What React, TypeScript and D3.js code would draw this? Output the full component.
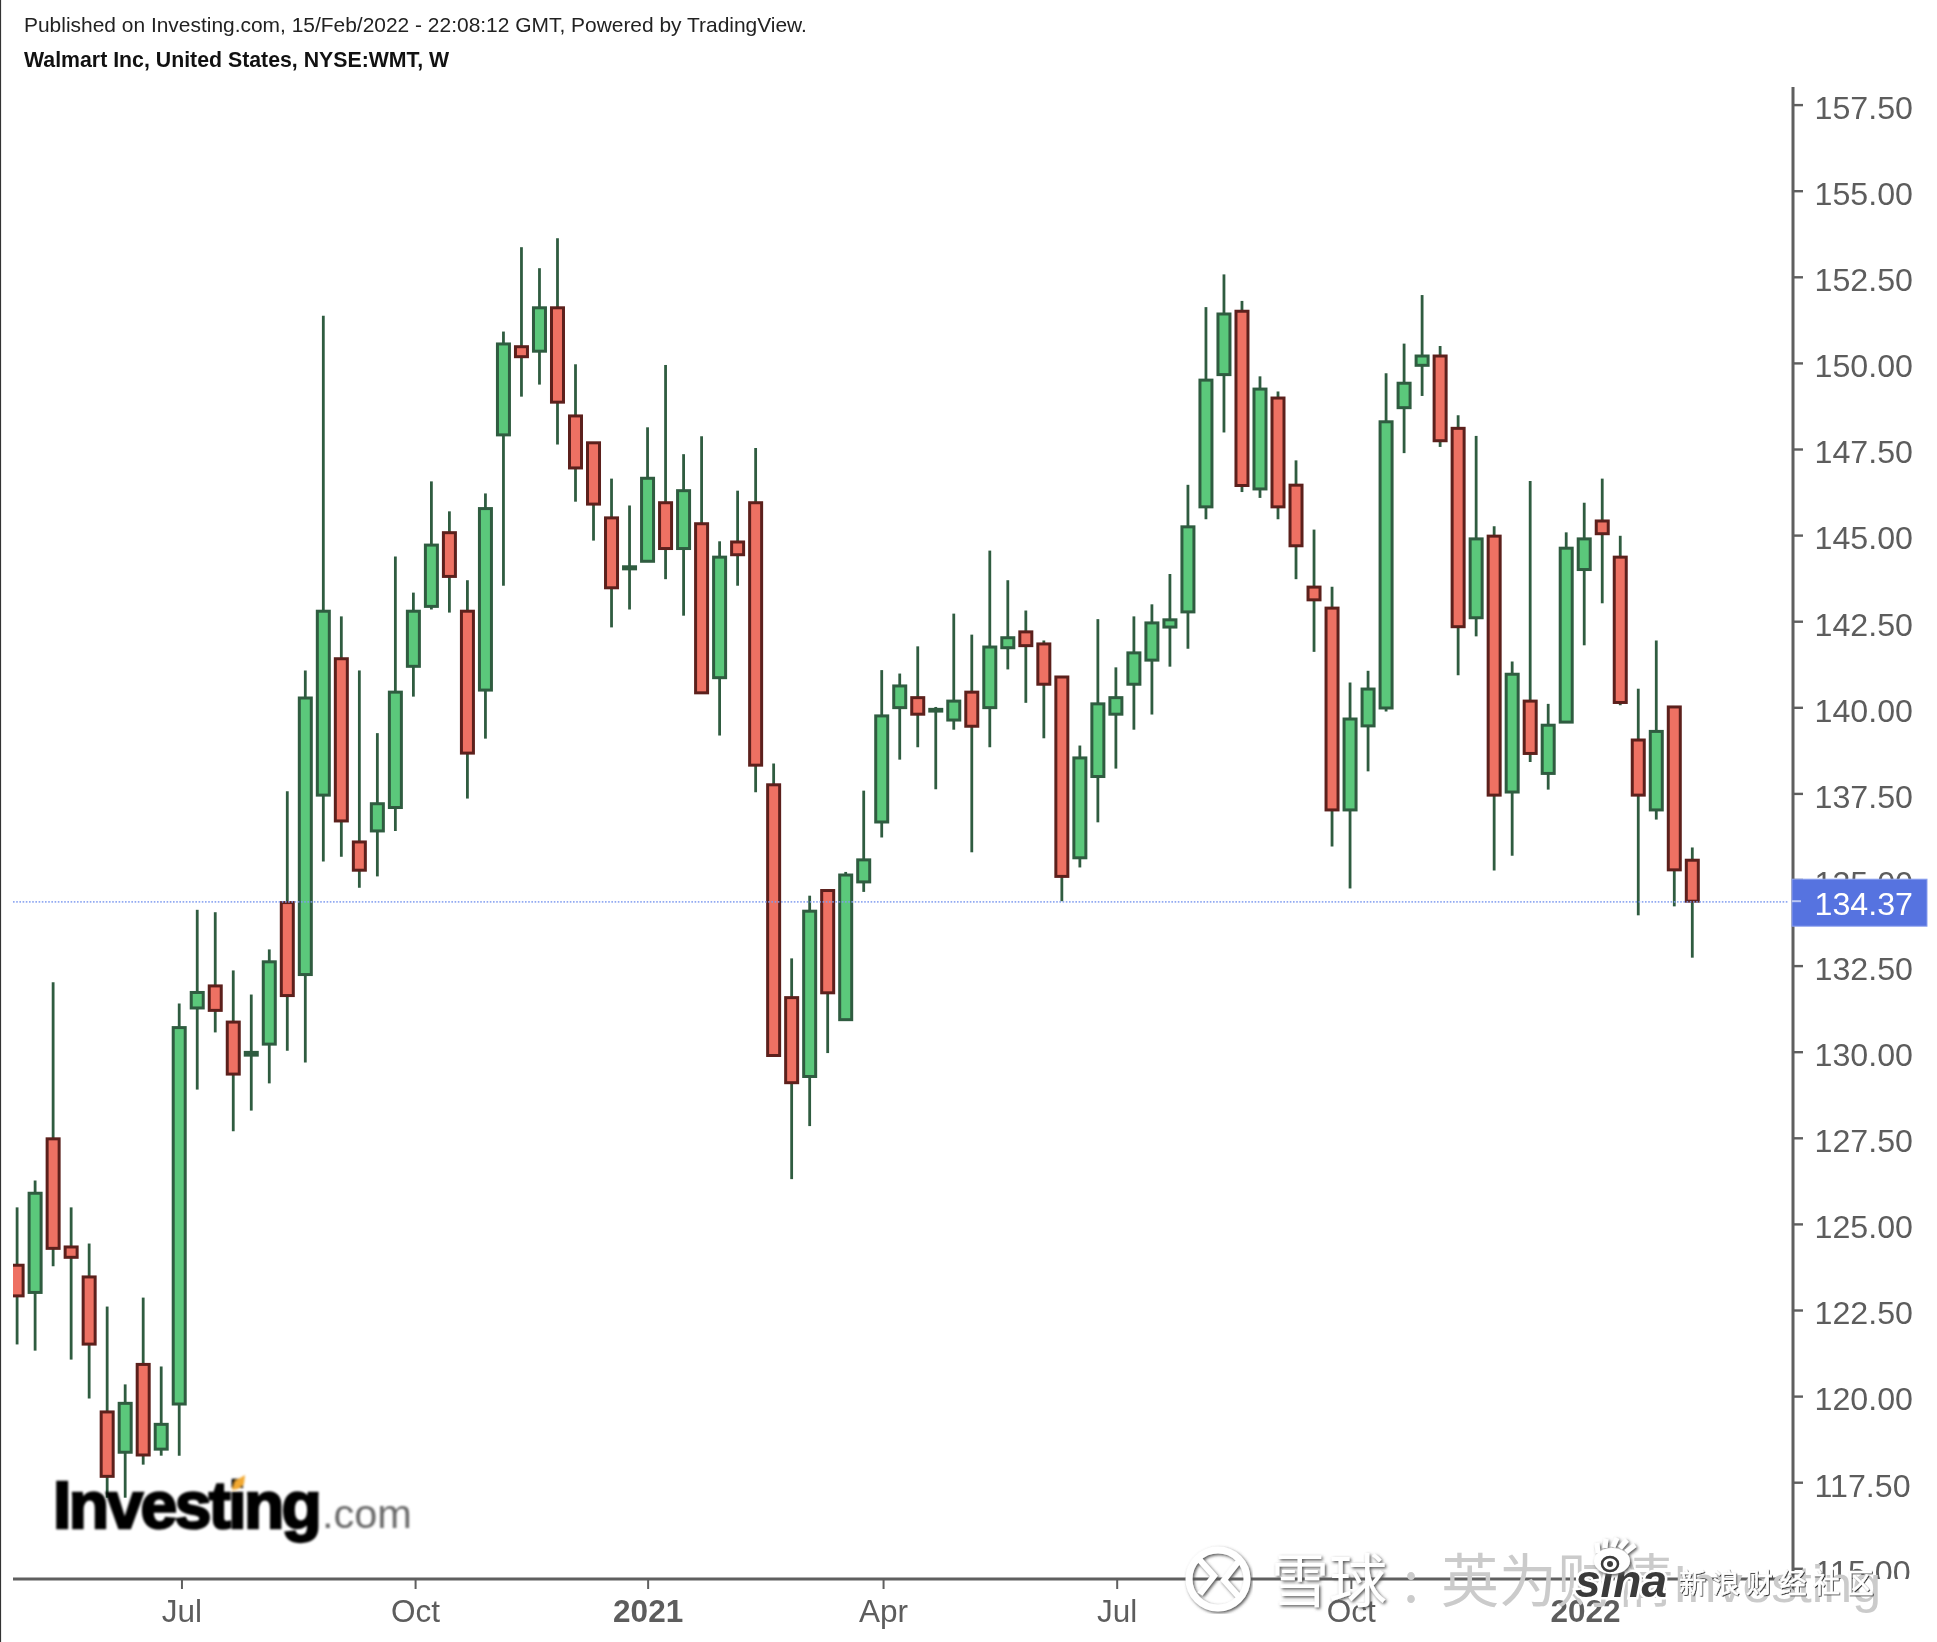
import { useRef, useEffect } from "react";
import * as d3 from "d3";

// weekly candles, values
const opens = [
  123.8, 123.01, 127.47, 124.33, 123.46, 119.54, 118.37, 120.92, 118.46, 119.77,
  131.27, 131.91, 130.86, 129.9, 130.22, 134.33, 132.24, 137.45, 141.41, 136.09,
  136.41, 137.09, 141.19, 142.93, 145.07, 142.79, 140.5, 147.91, 150.47, 150.34,
  151.6, 148.46, 147.68, 145.5, 144.02, 144.24, 145.94, 144.61, 145.33, 140.86,
  144.8, 145.94, 137.75, 131.57, 129.28, 134.68, 130.93, 134.93, 136.67, 139.99,
  140.28, 139.89, 139.63, 140.44, 139.99, 141.73, 142.19, 141.84, 140.88, 135.63,
  137.99, 139.8, 140.67, 141.37, 142.33, 142.77, 145.82, 149.66, 151.5, 146.34,
  148.98, 146.45, 143.49, 142.88, 137.02, 139.46, 139.98, 148.7, 149.93, 150.2,
  148.1, 142.6, 144.97, 137.54, 140.18, 138.08, 139.57, 144.0, 145.41, 144.36,
  139.05, 137.02, 140.01, 135.56,
];
const closes = [
  122.91, 125.89, 124.29, 124.03, 121.51, 117.67, 119.79, 118.29, 119.18, 130.7,
  131.72, 131.2, 129.35, 129.98, 132.61, 131.63, 140.27, 142.79, 136.7, 135.27,
  137.2, 140.44, 142.79, 144.71, 143.8, 138.67, 145.77, 150.55, 150.18, 151.6,
  148.86, 146.95, 145.9, 143.47, 144.08, 146.65, 144.61, 146.29, 140.42, 144.36,
  144.43, 138.32, 129.89, 129.1, 134.08, 131.71, 135.13, 135.57, 139.75, 140.62,
  139.8, 139.94, 140.18, 139.45, 141.75, 142.02, 141.79, 140.67, 135.09, 138.53,
  140.1, 140.28, 141.58, 142.45, 142.54, 145.24, 149.5, 151.42, 146.44, 149.24,
  145.82, 144.69, 143.12, 137.02, 139.66, 140.53, 148.29, 149.41, 150.2, 147.74,
  142.34, 144.89, 137.45, 140.96, 138.66, 139.48, 144.62, 144.89, 145.04, 140.14,
  137.45, 139.3, 135.28, 134.37,
];
const highs = [
  125.48, 126.26, 132.02, 125.48, 124.43, 122.6, 120.34, 122.86, 120.86, 131.4,
  134.12, 134.05, 132.36, 131.66, 132.97, 137.56, 141.07, 151.37, 142.64, 141.07,
  139.25, 144.38, 143.33, 146.56, 145.69, 143.69, 146.21, 150.91, 153.36, 152.75,
  153.62, 149.96, 147.68, 146.64, 145.86, 148.13, 149.94, 147.35, 147.87, 144.82,
  146.29, 147.53, 138.37, 132.71, 134.53, 134.68, 135.22, 137.58, 141.08, 140.98,
  141.77, 140.01, 142.72, 142.11, 144.55, 143.69, 142.81, 141.94, 140.88, 138.89,
  142.56, 141.16, 142.64, 142.99, 143.87, 146.46, 151.62, 152.57, 151.8, 149.61,
  149.17, 147.17, 145.16, 143.5, 140.72, 141.06, 149.7, 150.56, 151.97, 150.49,
  148.48, 147.88, 145.26, 141.33, 146.57, 140.1, 145.08, 145.94, 146.64, 144.98,
  140.54, 141.94, 140.01, 135.93,
];
const lows = [
  121.5, 121.32, 123.77, 121.06, 119.93, 117.05, 117.05, 118.01, 118.27, 118.27,
  128.9, 130.56, 127.69, 128.29, 129.08, 130.03, 129.69, 135.52, 135.66, 134.76,
  135.09, 136.41, 140.31, 142.84, 142.75, 137.35, 139.09, 143.53, 149.02, 149.37,
  147.63, 145.97, 144.84, 142.32, 142.84, 144.24, 143.72, 142.66, 140.42, 139.18,
  143.53, 137.53, 129.89, 126.3, 127.84, 129.96, 130.93, 134.64, 136.22, 138.48,
  138.84, 137.62, 139.35, 135.79, 138.84, 141.1, 140.13, 139.1, 134.37, 135.35,
  136.66, 138.22, 139.35, 139.79, 141.18, 141.7, 145.46, 147.98, 146.25, 146.08,
  145.46, 143.72, 141.61, 135.96, 134.74, 138.14, 139.88, 147.38, 149.04, 147.56,
  140.93, 142.06, 135.26, 135.69, 138.41, 137.61, 139.57, 141.8, 143.02, 140.06,
  133.96, 136.74, 134.22, 132.73,
];

const priceTicks = [
  115, 117.5, 120, 122.5, 125, 127.5, 130, 132.5, 135, 137.5, 140, 142.5, 145,
  147.5, 150, 152.5, 155, 157.5,
];
const timeTickLabels = ["Jul", "Oct", "2021", "Apr", "Jul", "Oct", "2022"];
// bar index of each label (they do not sit exactly on a bar)
const timeTickIndex = [9.18, 22.15, 35.06, 48.13, 61.1, 74.1, 87.1];
const lastPrice = 134.37;

const width = 1937;
const height = 1642;
const sans = "'Liberation Sans', Arial, sans-serif";
const cjk = "'Noto Sans CJK SC', sans-serif";

export default function App() {
  const svgRef = useRef<SVGSVGElement>(null);

  useEffect(() => {
    if (!svgRef.current) return;
    const svg = d3.select(svgRef.current);
    svg.selectAll("*").remove();

    const paneLeft = 13;
    const paneRight = 1793;
    const paneBottom = 1579;
    const paneTop = 87;

    const x = d3.scaleLinear().domain([0, 93]).range([17.1, 1692.3]);
    const y = d3.scaleLinear().domain([115, 157.5]).range([1568.3, 104.6]);

    const defs = svg.append("defs");
    defs
      .append("clipPath")
      .attr("id", "pane")
      .append("rect")
      .attr("x", paneLeft)
      .attr("y", paneTop)
      .attr("width", paneRight - paneLeft)
      .attr("height", paneBottom - paneTop);
    defs
      .append("clipPath")
      .attr("id", "scale")
      .append("rect")
      .attr("x", paneRight - 2)
      .attr("y", 80)
      .attr("width", width - paneRight)
      .attr("height", paneBottom - 80);

    // shadows used by the pasted-on watermarks
    const emboss = defs.append("filter").attr("id", "emboss");
    emboss
      .append("feDropShadow")
      .attr("dx", 1.5)
      .attr("dy", 1.5)
      .attr("stdDeviation", 1.4)
      .attr("flood-color", "#555");
    const tight = defs.append("filter").attr("id", "tight");
    tight
      .append("feDropShadow")
      .attr("dx", 0.8)
      .attr("dy", 0.8)
      .attr("stdDeviation", 0.7)
      .attr("flood-color", "#111");
    defs
      .append("filter")
      .attr("id", "soft")
      .append("feGaussianBlur")
      .attr("stdDeviation", 0.8);

    // left edge of the screenshot
    svg
      .append("line")
      .attr("x1", 0.5)
      .attr("x2", 0.5)
      .attr("y1", 0)
      .attr("y2", height)
      .attr("stroke", "#333")
      .attr("stroke-width", 1.2);

    // Header
    svg
      .append("text")
      .attr("x", 24)
      .attr("y", 32)
      .attr("font-family", sans)
      .attr("font-size", 20.95)
      .attr("fill", "#222")
      .text("Published on Investing.com, 15/Feb/2022 - 22:08:12 GMT, Powered by TradingView.");
    svg
      .append("text")
      .attr("x", 24)
      .attr("y", 67)
      .attr("font-family", sans)
      .attr("font-size", 21.3)
      .attr("font-weight", 700)
      .attr("fill", "#111")
      .text("Walmart Inc, United States, NYSE:WMT, W");

    // Candles
    const bars = d3.range(opens.length);
    const pane = svg.append("g").attr("clip-path", "url(#pane)");
    const up = (i: number) => closes[i] >= opens[i];

    pane
      .selectAll("line.wick")
      .data(bars)
      .join("line")
      .attr("class", "wick")
      .attr("x1", (i) => x(i))
      .attr("x2", (i) => x(i))
      .attr("y1", (i) => y(highs[i]))
      .attr("y2", (i) => y(lows[i]))
      .attr("stroke", "#2f5c40")
      .attr("stroke-width", 2.8);

    const bodyW = 12;
    pane
      .selectAll("rect.body")
      .data(bars)
      .join("rect")
      .attr("class", "body")
      .attr("x", (i) => x(i) - bodyW / 2)
      .attr("y", (i) => y(Math.max(opens[i], closes[i])))
      .attr("width", bodyW)
      .attr("height", (i) => Math.abs(y(opens[i]) - y(closes[i])))
      .attr("fill", (i) => (up(i) ? "#5bc87b" : "#ee7163"))
      .attr("stroke", (i) => (up(i) ? "#2f5c40" : "#5c201c"))
      .attr("stroke-width", 3);

    // Last price line
    pane
      .append("line")
      .attr("x1", paneLeft)
      .attr("x2", paneRight - 4)
      .attr("y1", y(lastPrice) + 0.6)
      .attr("y2", y(lastPrice) + 0.6)
      .attr("stroke", "#7f9bf0")
      .attr("stroke-opacity", 0.85)
      .attr("stroke-width", 1.8)
      .attr("stroke-dasharray", "1.6,1.6");

    // Price axis
    const yAxis = svg
      .append("g")
      .attr("clip-path", "url(#scale)")
      .append("g")
      .attr("transform", `translate(${paneRight},0)`)
      .call(
        d3
          .axisRight(y)
          .tickValues(priceTicks)
          .tickFormat(d3.format(".2f"))
          .tickSize(10)
          .tickPadding(11.5),
      );
    yAxis.select(".domain").remove();
    yAxis.selectAll("line").attr("stroke", "#5f5f5f").attr("stroke-width", 2.4);
    yAxis
      .selectAll("text")
      .attr("font-family", sans)
      .attr("font-size", 32.2)
      .attr("fill", "#5d5d5d")
      .attr("dy", "0.43em");

    svg
      .append("line")
      .attr("x1", paneRight)
      .attr("x2", paneRight)
      .attr("y1", paneTop)
      .attr("y2", paneBottom + 14)
      .attr("stroke", "#5f5f5f")
      .attr("stroke-width", 3);

    // Time axis
    const xAxis = svg
      .append("g")
      .attr("transform", `translate(-1,${paneBottom})`)
      .call(
        d3
          .axisBottom(x)
          .tickValues(timeTickIndex)
          .tickFormat((_, i) => timeTickLabels[i])
          .tickSize(10)
          .tickPadding(11),
      );
    xAxis.select(".domain").remove();
    xAxis.selectAll("line").attr("stroke", "#5f5f5f").attr("stroke-width", 2);
    xAxis
      .selectAll("text")
      .attr("font-family", sans)
      .attr("font-size", 31.5)
      .attr("fill", "#5d5d5d")
      .attr("font-weight", (_, i) => (timeTickLabels[i].length === 4 ? 700 : 400));

    svg
      .append("line")
      .attr("x1", paneLeft)
      .attr("x2", paneRight)
      .attr("y1", paneBottom)
      .attr("y2", paneBottom)
      .attr("stroke", "#5f5f5f")
      .attr("stroke-width", 3);

    // Last price tag
    svg
      .append("rect")
      .attr("x", 1792)
      .attr("y", y(lastPrice) - 22)
      .attr("width", 135)
      .attr("height", 47)
      .attr("fill", "#5673e0")
      .attr("stroke", "#8ba0ee")
      .attr("stroke-width", 1);
    svg
      .append("line")
      .attr("x1", 1792)
      .attr("x2", 1801)
      .attr("y1", y(lastPrice))
      .attr("y2", y(lastPrice))
      .attr("stroke", "#b9c6f3")
      .attr("stroke-width", 2);
    svg
      .append("text")
      .attr("x", 1814.5)
      .attr("y", y(lastPrice) + 13.5)
      .attr("font-family", sans)
      .attr("font-size", 32.2)
      .attr("fill", "#fff")
      .text(lastPrice.toFixed(2));

    // Investing.com logo
    const logo = svg.append("g").attr("font-family", sans).attr("filter", "url(#soft)");
    logo
      .append("text")
      .attr("x", 53)
      .attr("y", 1528)
      .attr("font-size", 66)
      .attr("font-weight", 700)
      .attr("letter-spacing", -2.6)
      .attr("fill", "#050505")
      .attr("stroke", "#050505")
      .attr("stroke-width", 2.4)
      .text("Investing");
    logo
      .append("text")
      .attr("x", 322)
      .attr("y", 1528)
      .attr("font-size", 41.5)
      .attr("fill", "#6a6a6a")
      .text(".com");
    logo
      .append("path")
      .attr("d", "M232 1490 l3 -9 l10 -6 l-1 9 l-6 5 z")
      .attr("fill", "#f2a933");

    // 雪球 watermark
    const wm = svg.append("g");
    const badge = wm.append("g").attr("filter", "url(#emboss)");
    badge
      .append("circle")
      .attr("cx", 1218)
      .attr("cy", 1579)
      .attr("r", 29)
      .attr("fill", "none")
      .attr("stroke", "#fff")
      .attr("stroke-width", 7);
    badge
      .append("path")
      .attr("d", "M1198 1558 L1214 1576 L1200 1594 M1238 1562 L1224 1580 L1240 1598")
      .attr("fill", "none")
      .attr("stroke", "#fff")
      .attr("stroke-width", 6);
    wm.append("text")
      .attr("x", 1271)
      .attr("y", 1602)
      .attr("font-family", cjk)
      .attr("font-size", 58)
      .attr("fill", "#fff")
      .attr("filter", "url(#emboss)")
      .text("雪球");
    const wmText = wm
      .append("text")
      .attr("y", 1602)
      .attr("font-family", cjk)
      .attr("font-size", 58)
      .attr("fill", "#cbcbcb");
    wmText.append("tspan").attr("x", 1403).text(":");
    wmText.append("tspan").attr("x", 1441).text("英为财情");
    wmText.append("tspan").attr("font-family", sans).attr("font-size", 52).text("Investing");

    // sina watermark
    const sina = svg.append("g");
    sina
      .append("text")
      .attr("x", 1575)
      .attr("y", 1597)
      .attr("font-family", sans)
      .attr("font-size", 46)
      .attr("font-weight", 700)
      .attr("font-style", "italic")
      .attr("fill", "#3a3a3a")
      .attr("stroke", "#fff")
      .attr("stroke-width", 5)
      .attr("paint-order", "stroke")
      .text("sina");
    const eye = sina.append("g").attr("filter", "url(#emboss)");
    eye
      .append("path")
      .attr("d", "M1598 1553 L1597 1543 M1605 1548 L1606 1539 M1613 1547 L1617 1538 M1620 1548 L1627 1540 M1626 1552 L1635 1545")
      .attr("stroke", "#fff")
      .attr("stroke-width", 5)
      .attr("fill", "none");
    eye
      .append("ellipse")
      .attr("cx", 1612)
      .attr("cy", 1561)
      .attr("rx", 18)
      .attr("ry", 13)
      .attr("fill", "#fff");
    eye
      .append("ellipse")
      .attr("cx", 1610)
      .attr("cy", 1564)
      .attr("rx", 8)
      .attr("ry", 7)
      .attr("fill", "none")
      .attr("stroke", "#3a3a3a")
      .attr("stroke-width", 2.5);
    eye
      .append("circle")
      .attr("cx", 1610)
      .attr("cy", 1564)
      .attr("r", 3)
      .attr("fill", "#3a3a3a");
    sina
      .append("text")
      .attr("x", 1679)
      .attr("y", 1593)
      .attr("font-family", cjk)
      .attr("font-size", 27)
      .attr("letter-spacing", 6.5)
      .attr("fill", "#fff")
      .attr("stroke", "#fff")
      .attr("stroke-width", 0.5)
      .attr("filter", "url(#tight)")
      .text("新浪财经社区");
  }, []);

  return (
    <svg
      ref={svgRef}
      width={width}
      height={height}
      viewBox={`0 0 ${width} ${height}`}
      style={{
        position: "absolute",
        left: 0,
        top: 0,
        display: "block",
        background: "#fff",
        filter: "blur(0.4px)",
      }}
    />
  );
}
